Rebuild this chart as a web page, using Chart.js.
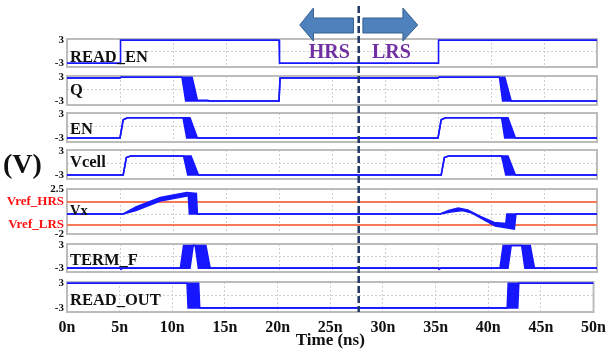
<!DOCTYPE html>
<html>
<head>
<meta charset="utf-8">
<script src="https://cdn.jsdelivr.net/npm/chart.js@4.4.1/dist/chart.umd.min.js"></script>
<style>
  html, body { margin: 0; padding: 0; background: #fff; }
  #wrap { position: relative; width: 612px; height: 355px; overflow: hidden; }
  #wrap canvas { position: absolute; left: 0; top: 0; }
</style>
</head>
<body>
<div id="wrap"></div>
<script>
/* Waveform data: [time (ns), volts] */
const timeTicks = [0, 5, 10, 15, 20, 25, 30, 35, 40, 45, 50];

const readEn = [[0,-3],[5,-3],[5.05,3],[20,3],[20.05,-3],[35,-3],[35.05,3],[50,3]];

// Q, earliest and latest Monte Carlo traces
const qFast = [[0,2.8],[5,2.8],[5.1,3],[10.85,3],[11.2,-3],[20,-3],[20.1,2.8],[35,2.8],[35.1,3],[40.8,3],[41.1,-3],[50,-3]];
const qSlow = [[0,2.8],[5,2.8],[5.1,3],[11.8,3],[12.3,-2.8],[13.3,-2.8],[13.4,-3],[20,-3],[20.1,2.8],[35,2.8],[35.1,3],[41.3,3],[41.9,-3],[50,-3]];

const enFast = [[0,-3],[5,-3],[5.3,1.6],[5.7,2.1],[10.95,2.1],[11.3,-3],[35,-3],[35.3,1.6],[35.7,2.1],[41.0,2.1],[41.3,-3],[50,-3]];
const enSlow = [[0,-3],[5,-3],[5.3,1.6],[5.7,2.1],[11.6,2.1],[12.3,-3],[35,-3],[35.3,1.6],[35.7,2.1],[41.6,2.1],[42.3,-3],[50,-3]];

const vcellFast = [[0,-3],[5.3,-3],[5.6,1.4],[6.0,1.8],[11.0,1.8],[11.4,-3],[35.3,-3],[35.6,1.4],[36.0,1.8],[41.0,1.8],[41.4,-3],[50,-3]];
const vcellSlow = [[0,-3],[5.3,-3],[5.6,1.4],[6.0,1.8],[11.7,1.8],[12.4,-3],[35.3,-3],[35.6,1.4],[36.0,1.8],[41.6,1.8],[42.3,-3],[50,-3]];

const vxA = [[0,0],[5.3,0],[6.5,0.35],[8.8,1.3],[11.3,1.8],[11.45,1.8],[11.55,0],[35.2,0],[36.0,0.35],[36.9,0.6],[37.8,0.4],[39,-0.25],[40.3,-0.85],[41.4,-0.95],[41.5,0],[50,0]];
const vxB = [[0,0],[5.3,0],[6.5,0.7],[8.8,1.65],[11.3,2.15],[12.2,2.05],[12.3,0],[35.2,0],[36.2,0.2],[37.3,0.35],[38.2,0.1],[39.3,-0.55],[40.4,-1.2],[42.2,-1.5],[42.35,0],[50,0]];
const vrefLevels = [1.2, -1.1];   // Vref_HRS, Vref_LRS

const termA = [[0,-3],[5,-3],[5.1,-3.3],[5.25,-3],[10.7,-3],[11.0,2.9],[12.1,2.9],[12.4,-3],[35,-3],[35.1,-3.3],[35.25,-3],[40.85,-3],[41.15,2.9],[42.9,2.9],[43.2,-3],[50,-3]];
const termB = [[0,-3],[11.6,-3],[11.9,2.9],[13.1,2.9],[13.5,-3],[41.6,-3],[41.9,2.9],[43.7,2.9],[44.1,-3],[50,-3]];

const readOutA = [[0,3],[11.4,3],[11.5,-3],[41.8,-3],[41.9,3],[50,3]];
const readOutB = [[0,3],[12.5,3],[12.6,-3],[42.8,-3],[42.9,3],[50,3]];

const stdTicks = [-3, 0, 3];
const stdTickLabels = ['-3', '', '3'];
const vxTicks = [-2, -1.1, 0, 1.2, 2.5];
const vxTickLabels = ['-2', 'Vref_LRS', '', 'Vref_HRS', '2.5'];

/* ---------- layout + styles ---------- */
const SERIF = "'Liberation Serif', 'Times New Roman', serif";
const BLUE = 'rgb(22,22,255)';
const W = 612, H = 355;

const panels = [
  { name: 'READ_EN',  top: 39,  bottom: 67,  labelY: 62,  traces: [readEn] },
  { name: 'Q',        top: 76,  bottom: 105, labelY: 95,  traces: [qFast, qSlow] },
  { name: 'EN',       top: 113, bottom: 142, labelY: 134, traces: [enFast, enSlow] },
  { name: 'Vcell',    top: 150, bottom: 179, labelY: 167, traces: [vcellFast, vcellSlow] },
  { name: 'Vx',       top: 189, bottom: 234, labelY: 215, traces: [vxA, vxB], vx: true, labelSize: 14.5 },
  { name: 'TERM_F',   top: 244, bottom: 272, labelY: 265, traces: [termA, termB] },
  { name: 'READ_OUT', top: 282, bottom: 312, labelY: 305, traces: [readOutA, readOutB] },
];

const xy = pairs => pairs.map(p => ({ x: p[0], y: p[1] }));

/* frame + signal name for each panel */
const panelFrame = {
  id: 'panelFrame',
  beforeDatasetsDraw(chart) {
    const { ctx, chartArea: a } = chart;
    ctx.save();
    ctx.strokeStyle = '#bcbcbc';
    ctx.lineWidth = 2;
    ctx.strokeRect(a.left, a.top, a.right - a.left, a.bottom - a.top);
    ctx.restore();
  },
  afterDatasetsDraw(chart, args, opts) {
    const { ctx, chartArea: a } = chart;
    ctx.save();
    ctx.font = `bold ${opts.size}px ${SERIF}`;
    ctx.fillStyle = '#111';
    ctx.textBaseline = 'alphabetic';
    ctx.fillText(opts.text, a.left + 3, opts.y);
    ctx.restore();
  }
};

/* split line, arrows and free texts (drawn on the top-most chart) */
const overlay = {
  id: 'overlay',
  afterDraw(chart) {
    const { ctx } = chart;
    const xs = chart.scales.x;
    const px = v => xs.getPixelForValue(v);
    ctx.save();

    // arrows
    ctx.fillStyle = '#4f81bd';
    ctx.strokeStyle = '#35608f';
    ctx.lineWidth = 1;
    const arrow = (tip, base, end) => {
      ctx.beginPath();
      ctx.moveTo(px(tip), 25);
      ctx.lineTo(px(base), 8);
      ctx.lineTo(px(base), 18);
      ctx.lineTo(px(end), 18);
      ctx.lineTo(px(end), 33);
      ctx.lineTo(px(base), 33);
      ctx.lineTo(px(base), 41);
      ctx.closePath();
      ctx.fill();
      ctx.stroke();
    };
    arrow(22.1, 23.4, 27.2);
    arrow(33.3, 31.9, 28.1);

    // HRS / LRS
    ctx.fillStyle = '#7030a0';
    ctx.font = `bold 20px ${SERIF}`;
    ctx.textAlign = 'center';
    ctx.fillText('HRS', px(24.9), 58);
    ctx.fillText('LRS', px(30.8), 58);

    // (V)
    ctx.fillStyle = '#111';
    ctx.font = `bold 28px ${SERIF}`;
    ctx.textAlign = 'left';
    ctx.fillText('(V)', 3, 173);

    // dashed split line
    ctx.strokeStyle = '#1f3864';
    ctx.lineWidth = 2.5;
    ctx.setLineDash([7, 3]);
    ctx.beginPath();
    ctx.moveTo(px(27.7), 6);
    ctx.lineTo(px(27.7), chart.chartArea.bottom);
    ctx.stroke();
    ctx.restore();
  }
};

function makeChart(p, isLast) {
  const canvas = document.createElement('canvas');
  canvas.width = W;
  canvas.height = H;
  document.getElementById('wrap').appendChild(canvas);

  const datasets = p.traces.map((tr, i) => ({
    data: xy(tr),
    borderColor: BLUE,
    backgroundColor: BLUE,
    borderWidth: 1.6,
    fill: i === 0 ? false : '-1',
    pointRadius: 0,
    tension: 0
  }));
  if (p.vx) {
    vrefLevels.forEach(v => datasets.push({
      data: xy([[0, v], [50, v]]),
      borderColor: '#f47a5a',
      borderWidth: 2,
      fill: false,
      pointRadius: 0
    }));
  }

  const yTicks = p.vx ? vxTicks : stdTicks;
  const yLabels = p.vx ? vxTickLabels : stdTickLabels;
  const isRef = c => !!(c && c.tick) && vrefLevels.includes(c.tick.value);

  const xAxis = {
    type: 'linear', min: 0, max: 50,
    afterBuildTicks: s => { s.ticks = timeTicks.map(v => ({ value: v })); },
    grid: { color: '#cfcfcf', drawTicks: false },
    border: { display: false, dash: [2, 2] },
    ticks: { display: false }
  };
  if (isLast) {
    xAxis.ticks = {
      display: true, padding: 6, color: '#111', autoSkip: false, maxRotation: 0,
      font: { family: SERIF, size: 16, weight: 'bold' },
      callback: v => v + 'n'
    };
    xAxis.title = {
      display: true, text: 'Time (ns)', color: '#111', padding: { top: 0, bottom: 2 },
      font: { family: SERIF, size: 17, weight: 'bold' }
    };
    xAxis.afterFit = s => { s.height = 41; };
  }

  return new Chart(canvas, {
    type: 'line',
    data: { datasets },
    options: {
      responsive: false,
      animation: false,
      events: [],
      layout: {
        padding: { left: 0, right: W - 597, top: p.top, bottom: isLast ? H - p.bottom - 41 : H - p.bottom }
      },
      plugins: {
        legend: { display: false },
        tooltip: { enabled: false },
        panelFrame: { text: p.name, y: p.labelY, size: p.labelSize || 16.5 }
      },
      scales: {
        x: xAxis,
        y: {
          min: p.vx ? -2 : -4,
          max: p.vx ? 2.5 : 3.3,
          afterBuildTicks: s => { s.ticks = yTicks.map(v => ({ value: v })); },
          afterFit: s => { s.width = 67; },
          grid: { color: c => c.tick && c.tick.value === 0 ? '#cfcfcf' : 'rgba(0,0,0,0)', drawTicks: false },
          border: { display: false, dash: [2, 2] },
          ticks: {
            padding: 3,
            autoSkip: false,
            color: c => isRef(c) ? '#ff1010' : '#111',
            font: c => ({ family: SERIF, weight: 'bold', size: isRef(c) ? 13 : 11 }),
            callback: v => yLabels[yTicks.indexOf(v)] ?? ''
          }
        }
      }
    },
    plugins: isLast ? [panelFrame, overlay] : [panelFrame]
  });
}

panels.forEach((p, i) => makeChart(p, i === panels.length - 1));
</script>
</body>
</html>
